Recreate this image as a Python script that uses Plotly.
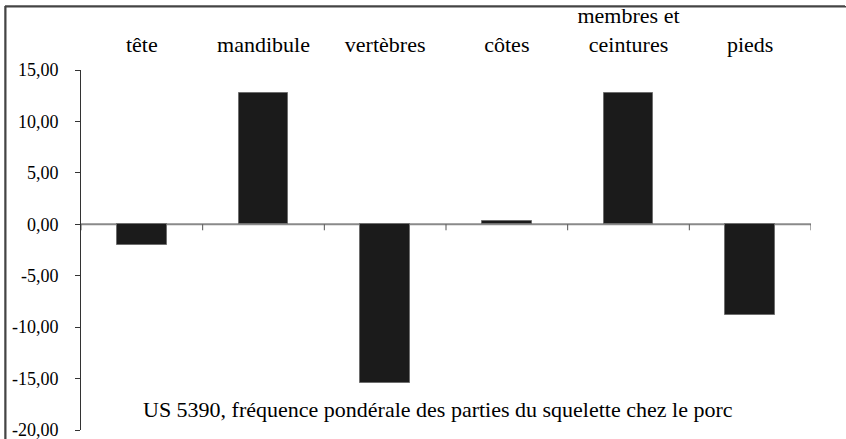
import plotly.graph_objects as go

categories = ["tête", "mandibule", "vertèbres", "côtes", "membres et<br>ceintures", "pieds"]
values = [-2.05, 12.75, -15.4, 0.3, 12.75, -8.8]
y_ticks = [15, 10, 5, 0, -5, -10, -15, -20]
y_tick_labels = ["15,00", "10,00", "5,00", "0,00", "-5,00", "-10,00", "-15,00", "-20,00"]
title_text = "US 5390, fréquence pondérale des parties du squelette chez le porc"

W, H = 846, 439
L, R, T, B = 81, 35, 70, 9

fig = go.Figure()
fig.add_trace(go.Bar(
    x=list(range(len(categories))), y=values,
    marker=dict(color="#1b1b1b", line=dict(color="#6e6e6e", width=1)),
    width=0.41, showlegend=False,
))

font = dict(family="Liberation Serif, Times New Roman, serif", size=22, color="black")
font_y = dict(family="Liberation Serif, Times New Roman, serif", size=18, color="black")

shapes = []
for i in range(len(categories) + 1):
    shapes.append(dict(type="line", xref="x", yref="y", x0=i - 0.5, x1=i - 0.5,
                       ysizemode="pixel", yanchor=0, y0=0, y1=-6,
                       line=dict(color="#555555", width=1)))
shapes.append(dict(type="line", xref="x", yref="y", x0=-0.5, x1=len(categories) - 0.5,
                   y0=0, y1=0, line=dict(color="#8a8a8a", width=2), layer="below"))

def px_x(px):
    return (px - L) / (W - L - R)
def px_y(py):
    return (H - B - py) / (H - T - B)

shapes.append(dict(type="line", xref="paper", yref="paper",
                   x0=px_x(5), x1=px_x(5), y0=px_y(6), y1=px_y(H),
                   line=dict(color="#444444", width=1.5)))
shapes.append(dict(type="line", xref="paper", yref="paper",
                   x0=px_x(5), x1=px_x(W - 1), y0=px_y(6), y1=px_y(6),
                   line=dict(color="#444444", width=1.5)))

annotations = [
    dict(text=title_text, xref="paper", yref="paper",
         x=px_x(438), y=px_y(409), showarrow=False,
         xanchor="center", yanchor="middle", font=font),
    dict(text=" ", xref="paper", yref="paper", x=px_x(5), y=px_y(6),
         xanchor="left", yanchor="top", showarrow=False,
         width=1000, height=600, borderpad=0, borderwidth=1.5,
         bordercolor="#444444", bgcolor="rgba(0,0,0,0)"),
]

fig.update_layout(
    width=W, height=H,
    margin=dict(l=L, r=R, t=T, b=B, pad=0, autoexpand=False),
    paper_bgcolor="white", plot_bgcolor="white",
    font=font,
    xaxis=dict(
        tickmode="array", tickvals=list(range(len(categories))), ticktext=categories,
        range=[-0.5, len(categories) - 0.5], side="top", automargin=False,
        showgrid=False, zeroline=False, showline=False, ticks="",
        ticklabelstandoff=13, tickfont=font,
    ),
    yaxis=dict(
        range=[-20, 15], tickmode="array", tickvals=y_ticks, ticktext=y_tick_labels,
        showgrid=False, zeroline=False, showline=True, linecolor="#333333", linewidth=1,
        ticks="outside", ticklen=5, tickcolor="#333333", tickwidth=1, automargin=False,
        ticklabelstandoff=13, tickfont=font_y, ticklabeloverflow="allow",
    ),
    shapes=shapes,
    annotations=annotations,
    bargap=0,
)

fig.write_html("out.html", config={"displayModeBar": False},
               post_script="document.body.style.margin='0';document.body.style.overflow='hidden';")
